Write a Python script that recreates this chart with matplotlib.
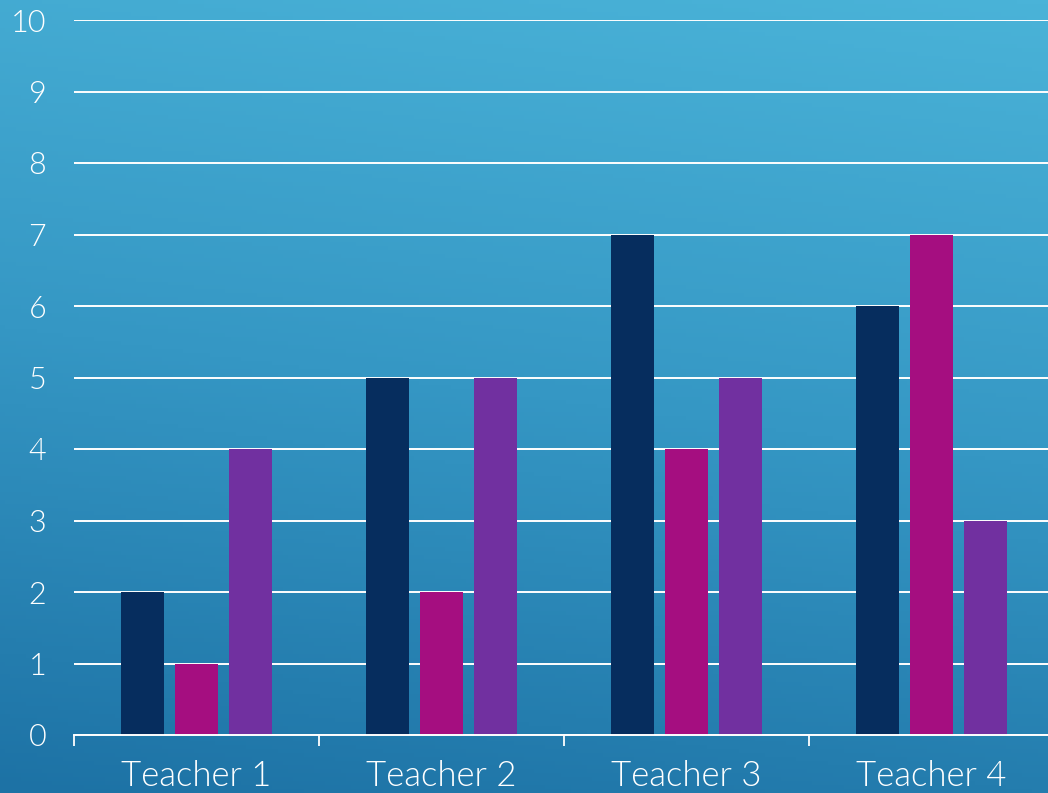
import numpy as np
import matplotlib
matplotlib.use("Agg")
import matplotlib.pyplot as plt
from matplotlib.colors import LinearSegmentedColormap

teachers = ['Teacher 1', 'Teacher 2', 'Teacher 3', 'Teacher 4']
series_a = [2, 5, 7, 6]
series_b = [1, 2, 4, 7]
series_c = [4, 5, 5, 3]
bar_colors = ['#062d5e', '#a50e80', '#7130a0']

plt.rcParams['font.family'] = ['Lato', 'DejaVu Sans']

fig = plt.figure(figsize=(10.48, 7.93), dpi=100)

# blue gradient behind everything
bg = fig.add_axes([0, 0, 1, 1], zorder=0)
cmap = LinearSegmentedColormap.from_list('bg', ['#1d72a5', '#3597c4', '#4ab3d8'])
yy, xx = np.mgrid[0:1:200j, 0:1:200j]
grad = 0.85 * yy + 0.15 * xx
bg.imshow(grad, cmap=cmap, origin='lower', extent=[0, 1, 0, 1], aspect='auto')
bg.axis('off')

ax = fig.add_axes([74 / 1048, 58 / 793, 980 / 1048, 715 / 793], zorder=1)
ax.patch.set_alpha(0)

x = np.arange(len(teachers))
width = 0.175
step = 0.222
for i, (vals, col) in enumerate(zip([series_a, series_b, series_c], bar_colors)):
    ax.bar(x + (i - 1) * step, vals, width, color=col, zorder=3)

ax.set_xlim(-0.5, len(teachers) - 0.5)
ax.set_ylim(0, 10)
ax.set_yticks(range(0, 11))
ax.yaxis.grid(True, color='white', linewidth=1.4, zorder=1)
ax.set_axisbelow(True)

ax.set_xticks(x)
ax.set_xticklabels(teachers)
ax.set_xticks(np.arange(-0.5, len(teachers)), minor=True)
ax.tick_params(axis='x', which='major', length=0, pad=18, labelsize=25, labelcolor='white')
ax.tick_params(axis='x', which='minor', length=8, width=1.3, color='white')
ax.tick_params(axis='y', length=0, pad=20, labelsize=22, labelcolor='white')
for lbl in ax.get_xticklabels() + ax.get_yticklabels():
    lbl.set_fontweight(300)

for side in ['top', 'right', 'left']:
    ax.spines[side].set_visible(False)
ax.spines['bottom'].set_color('white')
ax.spines['bottom'].set_linewidth(1.4)
ax.spines['bottom'].set_zorder(4)

fig.savefig('out.png', dpi=100)
